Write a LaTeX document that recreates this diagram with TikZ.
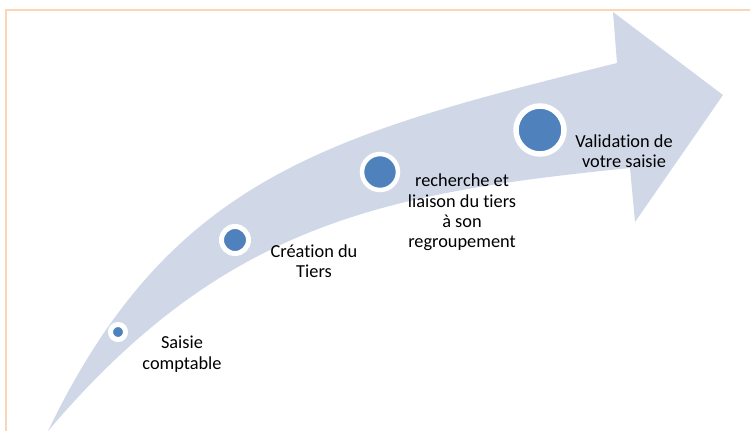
\documentclass[tikz,border=0pt]{standalone}
\usepackage{fontspec}
\setmainfont{Carlito}[Ligatures=NoCommon]
\definecolor{band}{HTML}{D0D8E8}
\definecolor{dotblue}{HTML}{4F81BD}
\definecolor{frame}{HTML}{FBD5B5}
\begin{document}
\begin{tikzpicture}[
          x=1bp, y=-1bp,
          step-dot/.style = {circle, fill=dotblue, draw=white, inner sep=0pt},
          step-txt/.style = {align=center, inner sep=0pt, font=\fontsize{18.4}{20.4}\selectfont}
        ]
          \useasboundingbox (0,0) rectangle (750,430);
          \draw[frame, line width=1.5bp] (6,431) -- (6,10) -- (751,10);

          \fill[band] (48,431) .. controls (170,178) and (326,135) .. (617,63)
            -- (613,12) -- (723,95) -- (635,222) -- (630,168)
            .. controls (381,193) and (223,225) .. (48,431) -- cycle;

          \node[step-dot, minimum size=15bp, line width=5bp] (c1) at (118,332) {};
          \node[step-dot, minimum size=27bp, line width=5bp] (c2) at (235,240) {};
          \node[step-dot, minimum size=36bp, line width=4.5bp] (c3) at (380,172) {};
          \node[step-dot, minimum size=48bp, line width=5.5bp] (c4) at (540,130) {};

          \node[step-txt] (t1) at (182,354) {Saisie\\comptable};
          \node[step-txt] (t2) at (314,261) {Création du\\Tiers};
          \node[step-txt] (t3) at (462,212.5) {recherche et\\liaison du tiers\\à son\\regroupement};
          \node[step-txt] (t4) at (624,151.5) {Validation de\\votre saisie};
        \end{tikzpicture}
\end{document}
